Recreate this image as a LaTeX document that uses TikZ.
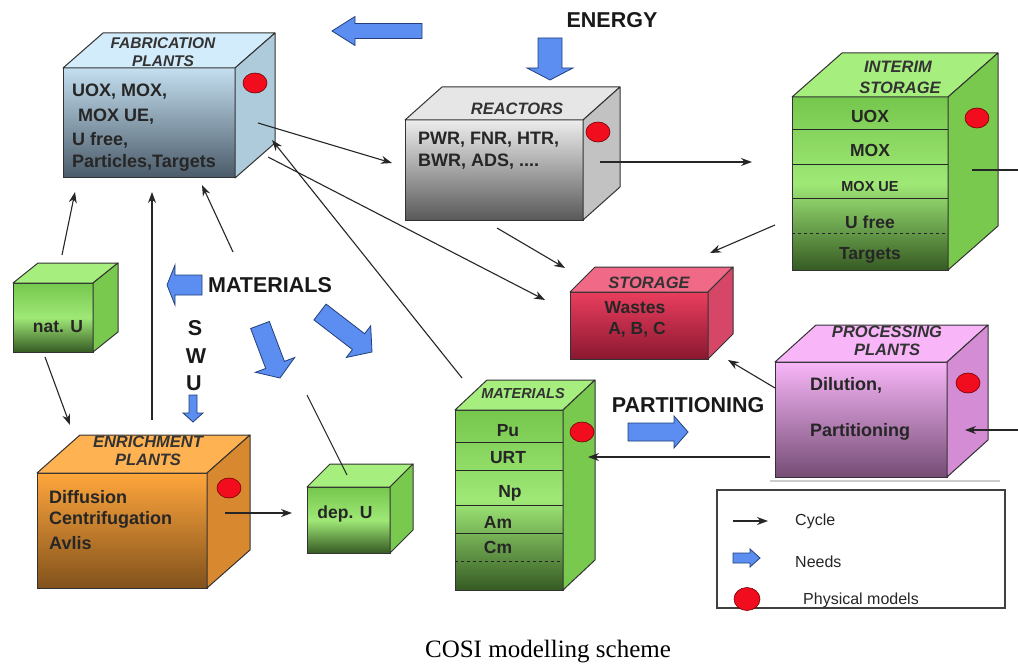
\documentclass[tikz,border=0pt]{standalone}
\usepackage{fontspec}
\setmainfont{Liberation Sans}
\newfontfamily\capfont{Liberation Serif}
\usetikzlibrary{arrows.meta,shapes.geometric}

% face colours of the blocks
\definecolor{fabHi}{HTML}{C4DFF0}
\definecolor{fabLo}{HTML}{4A5A68}
\definecolor{fabLid}{HTML}{D2ECFB}
\definecolor{fabSide}{HTML}{AECBDC}
\definecolor{reaLid}{HTML}{E6E6E6}
\definecolor{reaSide}{HTML}{C2C2C2}
\definecolor{greenLid}{HTML}{A6EE7E}
\definecolor{greenSide}{HTML}{78C94E}
\definecolor{stoHi}{HTML}{EA3E5E}
\definecolor{stoLo}{HTML}{8A1830}
\definecolor{stoLid}{HTML}{F06A88}
\definecolor{stoSide}{HTML}{D64666}
\definecolor{proLid}{HTML}{F8B6F8}
\definecolor{proSide}{HTML}{D48CD4}
\definecolor{enrHi}{HTML}{FFA63C}
\definecolor{enrLid}{HTML}{FFB252}
\definecolor{enrSide}{HTML}{D8882E}
\definecolor{needblue}{HTML}{5B8EF0}
\definecolor{neededge}{HTML}{22407A}
\definecolor{modelred}{HTML}{F20D1E}

\tikzset{
  frontface/.style={rectangle, draw=black!80, line width=1pt, inner sep=0pt, outer sep=0pt},
  cubeedge/.style={draw=black!80, line width=1pt, line join=round},
  fabfront/.style={top color=fabHi, bottom color=fabLo},
  reafront/.style={top color=black!7, bottom color=black!65},
  greenfront/.style={top color=green!35!black!2!greenSide, bottom color=greenSide!45!black, middle color=greenLid!85!greenSide},
  stofront/.style={top color=stoHi, bottom color=stoLo},
  profront/.style={top color=proLid, bottom color=proSide!55!black},
  enrfront/.style={top color=enrHi, middle color=enrHi!75!enrSide, bottom color=enrSide!60!black},
  rowline/.style={black!85, line width=0.9pt},
  boxtext/.style={font=\bfseries\fontsize{18}{20}\selectfont, text=black!85, inner sep=0pt, anchor=west},
  rowtext/.style={font=\bfseries\fontsize{17.5}{20}\selectfont, text=black!85, inner sep=0pt},
  boxtitle/.style={font=\bfseries\itshape\fontsize{16.5}{18}\selectfont, text=black!80, inner sep=0pt},
  biglabel/.style={font=\bfseries\fontsize{21.5}{23}\selectfont, text=black!90, inner sep=0pt},
  legendtext/.style={font=\fontsize{16}{18}\selectfont, text=black!85, inner sep=0pt, anchor=west},
  flow/.style={line width=1.1pt, black!85, -{Stealth[length=11pt,width=8pt]}},
  plainlink/.style={line width=1.1pt, black!85},
  model/.style={ellipse, fill=modelred, draw=red!45!black, line width=0.6pt,
    minimum width=24pt, minimum height=20pt, inner sep=0pt},
  needfill/.style={fill=needblue, draw=neededge, line width=0.8pt, line join=miter},
}

% #1 name, #2 left, #3 top, #4 right, #5 bottom, #6 depth x, #7 depth y,
% #8 front style, #9 colour prefix for lid and side
\newcommand{\cubeblock}[9]{%
  \node[frontface, #8, minimum width={#4-#2}, minimum height={#5-#3}]
    (#1) at ({(#2+#4)/2},{(#3+#5)/2}) {};
  \filldraw[cubeedge, fill=#9Lid] (#1.north west) -- ++(#6,-#7) -- ++({#4-#2},0)
    -- (#1.north east) -- cycle;
  \filldraw[cubeedge, fill=#9Side] (#1.north east) -- ++(#6,-#7) -- ++(0,{#5-#3})
    -- (#1.south east) -- cycle;
}

% block arrow: tail (#1,#2), tip (#3,#4), shaft half width #5,
% head half width #6, head length #7
\newcommand{\needarrow}[7]{%
  \pgfmathsetmacro\needang{atan2(#2-#4,#3-#1)}%
  \pgfmathsetmacro\needlen{veclen(#3-#1,#4-#2)}%
  \begin{scope}[shift={(#1,#2)}, rotate=\needang]
    \filldraw[needfill] (0,#5) -- ({\needlen-#7},#5) -- ({\needlen-#7},#6)
      -- (\needlen,0) -- ({\needlen-#7},-#6) -- ({\needlen-#7},-#5)
      -- (0,-#5) -- cycle;
  \end{scope}}

\begin{document}
\begin{tikzpicture}[x=1pt,y=-1pt]
\fill[white] (0,0) rectangle (1018,666);
\useasboundingbox (0,0) rectangle (1018,666);

% ---------- blocks ----------
\cubeblock{fab}{63}{68}{235}{178}{40}{35}{fabfront}{fab}
\cubeblock{rea}{405}{120}{583}{220}{37}{33}{reafront}{rea}
\cubeblock{int}{792}{97}{948}{270}{50}{44}{greenfront}{green}
\cubeblock{sto}{570}{292}{708}{359}{25}{25}{stofront}{sto}
\cubeblock{pro}{775}{362}{947}{477}{41}{37}{profront}{pro}
\cubeblock{mat}{455}{410}{563}{590}{32}{30}{greenfront}{green}
\cubeblock{enr}{37}{473}{207}{588}{43}{38}{enrfront}{enr}
\cubeblock{nat}{13}{283}{93}{352}{25}{20}{greenfront}{green}
\cubeblock{dep}{307}{487}{390}{553}{23}{23}{greenfront}{green}

% rows of the interim storage
\draw[rowline] (792,129) -- (948,129);
\draw[rowline] (792,164) -- (948,164);
\draw[rowline] (792,198) -- (948,198);
\draw[rowline, dashed] (792,233) -- (948,233);
% rows of the materials stock
\draw[rowline] (455,442) -- (563,442);
\draw[rowline] (455,470) -- (563,470);
\draw[rowline] (455,505) -- (563,505);
\draw[rowline] (455,533) -- (563,533);
\draw[rowline, dashed] (455,561) -- (563,561);

% ---------- physical models ----------
\node[model] (fab-m) at (255,83) {};
\node[model] (rea-m) at (598,132) {};
\node[model] (int-m) at (977,118) {};
\node[model] (pro-m) at (968,383) {};
\node[model] (mat-m) at (582,432) {};
\node[model] (enr-m) at (229,488) {};

% ---------- texts ----------
\node[boxtitle, font=\bfseries\itshape\fontsize{15.5}{17}\selectfont] (fab-t0) at (163,43) {FABRICATION};
\node[boxtitle, font=\bfseries\itshape\fontsize{15.5}{17}\selectfont] (fab-t00) at (163,61) {PLANTS};
\node[boxtext] (fab-t1) at (72,92) {UOX, MOX,};
\node[boxtext] (fab-t2) at (78,117) {MOX UE,};
\node[boxtext] (fab-t3) at (72,140) {U free,};
\node[boxtext] (fab-t4) at (72,163) {Particles,Targets};

\node[boxtitle] (rea-t0) at (517,109) {REACTORS};
\node[boxtext] (rea-t1) at (418,140) {PWR, FNR, HTR,};
\node[boxtext] (rea-t2) at (418,162) {BWR, ADS, ....};

\node[boxtitle] (int-t0) at (898,67) {INTERIM};
\node[boxtitle] (int-t00) at (900,88) {STORAGE};
\node[rowtext] (int-t1) at (870,116) {UOX};
\node[rowtext] (int-t2) at (870,150) {MOX};
\node[rowtext, font=\bfseries\fontsize{14.5}{16}\selectfont] (int-t3) at (870,187) {MOX UE};
\node[rowtext] (int-t4) at (870,222) {U free};
\node[rowtext] (int-t5) at (870,255) {Targets};

\node[boxtitle] (sto-t0) at (649,283) {STORAGE};
\node[rowtext] (sto-t1) at (635,308) {Wastes};
\node[rowtext] (sto-t2) at (637,330) {A, B, C};

\node[boxtitle] (pro-t0) at (887,332) {PROCESSING};
\node[boxtitle] (pro-t00) at (887,350) {PLANTS};
\node[boxtext] (pro-t1) at (810,385) {Dilution,};
\node[boxtext] (pro-t2) at (810,432) {Partitioning};

\node[boxtitle, font=\bfseries\itshape\fontsize{14.5}{16}\selectfont] (mat-t0) at (523,394) {MATERIALS};
\node[rowtext] (mat-t1) at (508,431) {Pu};
\node[rowtext] (mat-t2) at (508,458) {URT};
\node[rowtext] (mat-t3) at (510,493) {Np};
\node[rowtext] (mat-t4) at (498,522) {Am};
\node[rowtext] (mat-t5) at (498,547) {Cm};

\node[boxtitle] (enr-t0) at (148,442) {ENRICHMENT};
\node[boxtitle] (enr-t00) at (148,460) {PLANTS};
\node[boxtext] (enr-t1) at (49,497) {Diffusion};
\node[boxtext] (enr-t2) at (49,520) {Centrifugation};
\node[boxtext] (enr-t3) at (49,543) {Avlis};

\node[rowtext] (nat-t) at (58,327) {nat. U};
\node[rowtext] (dep-t) at (345,514) {dep. U};

\node[biglabel] (energy) at (612,20) {ENERGY};
\node[biglabel] (materials) at (270,285) {MATERIALS};
\node[biglabel] (swu-s) at (195,328) {S};
\node[biglabel] (swu-w) at (196,356) {W};
\node[biglabel] (swu-u) at (194,383) {U};
\node[biglabel] (partitioning) at (688,405) {PARTITIONING};

% ---------- needs ----------
\needarrow{422}{31}{332}{31}{7.5}{14.5}{23}
\needarrow{550}{38}{550}{80}{12}{23}{12}
\needarrow{202}{285}{167}{285}{10}{20}{8}
\needarrow{193}{395}{193}{422}{4}{10}{9}
\needarrow{260}{325}{280}{378}{10}{21}{14}
\needarrow{320}{312}{372}{352}{10}{20}{17}
\needarrow{628}{432}{688}{432}{9}{16}{14}

% ---------- cycle links ----------
\coordinate (fab-o1) at (258,123);
\coordinate (rea-i1) at (392,163);
\coordinate (rea-o1) at (600,162);
\coordinate (int-i1) at (752,162);
\coordinate (int-o1) at (972,170);
\coordinate (edge-r1) at (1018,170);
\coordinate (edge-r2) at (1018,430);
\coordinate (pro-i1) at (965,430);
\coordinate (rea-o2) at (497,228);
\coordinate (sto-i1) at (565,268);
\coordinate (int-o2) at (775,225);
\coordinate (sto-i2) at (710,253);
\coordinate (fab-o2) at (268,157);
\coordinate (sto-i3) at (545,300);
\coordinate (pro-o1) at (775,388);
\coordinate (sto-i4) at (728,360);
\coordinate (pro-o2) at (770,457);
\coordinate (mat-i1) at (588,457);
\coordinate (mat-o1) at (462,378);
\coordinate (fab-i1) at (272,140);
\coordinate (dep-o1) at (347,475);
\coordinate (dep-e1) at (307,395);
\coordinate (mat-o2) at (233,252);
\coordinate (fab-i2) at (202,185);
\coordinate (enr-o1) at (152,420);
\coordinate (fab-i3) at (152,192);
\coordinate (nat-o1) at (62,255);
\coordinate (fab-i4) at (75,192);
\coordinate (nat-o2) at (45,357);
\coordinate (enr-i1) at (70,425);
\coordinate (enr-o2) at (225,513);
\coordinate (dep-i1) at (292,513);

\draw[flow] (fab-o1) -- (rea-i1);
\draw[flow] (rea-o1) -- (int-i1);
\draw[plainlink] (int-o1) -- (edge-r1);
\draw[flow] (edge-r2) -- (pro-i1);
\draw[flow] (rea-o2) -- (sto-i1);
\draw[flow] (int-o2) -- (sto-i2);
\draw[flow] (fab-o2) -- (sto-i3);
\draw[flow] (pro-o1) -- (sto-i4);
\draw[flow] (pro-o2) -- (mat-i1);
\draw[flow] (mat-o1) -- (fab-i1);
\draw[plainlink] (dep-o1) -- (dep-e1);
\draw[flow] (mat-o2) -- (fab-i2);
\draw[flow] (enr-o1) -- (fab-i3);
\draw[flow] (nat-o1) -- (fab-i4);
\draw[flow] (nat-o2) -- (enr-i1);
\draw[flow] (enr-o2) -- (dep-i1);

% ---------- legend ----------
\draw[black!20, line width=1.5pt] (770,481) -- (1000,481);
\node[draw=black!75, line width=1.5pt, rectangle, minimum width=288pt, minimum height=118pt, inner sep=0pt] (legend) at (861,549) {};
\coordinate (leg-a) at (733,521);
\coordinate (leg-b) at (768,521);
\draw[flow] (leg-a) -- (leg-b);
\needarrow{733}{558}{760}{558}{5}{9}{10}
\node[model, minimum width=26pt, minimum height=23pt] (leg-m) at (747,599) {};
\node[legendtext] (leg-t1) at (795,521) {Cycle};
\node[legendtext] (leg-t2) at (795,562) {Needs};
\node[legendtext] (leg-t3) at (803,600) {Physical models};

% ---------- caption ----------
\node[font=\capfont\fontsize{25}{27}\selectfont, inner sep=0pt] (caption) at (548,652) {COSI modelling scheme};
\end{tikzpicture}
\end{document}
